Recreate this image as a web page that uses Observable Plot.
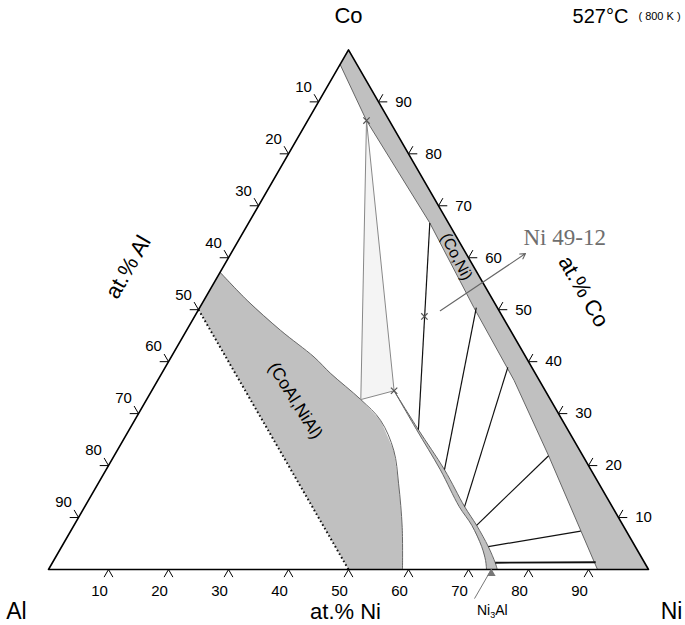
<!DOCTYPE html>
<html><head><meta charset="utf-8">
<script src="https://cdn.jsdelivr.net/npm/d3@7"></script>
<script src="https://cdn.jsdelivr.net/npm/@observablehq/plot@0.6"></script>
<style>body{margin:0;background:#fff} svg{display:block}</style>
</head><body><div id="chart"></div>
<script>
// compositions given as [at.% Ni, at.% Co]; at.% Al = 100 - Ni - Co
const tickValues = [10, 20, 30, 40, 50, 60, 70, 80, 90];
const coNiBoundary = [[0,97.2],[9.8,86.4],[30.2,66.7],[45.7,50.4],[59.4,36.4],[72.4,21.9],[91.5,0]];
const b2Boundary = [[0,57.2],[7.2,51.8],[15.7,46.0],[23.8,40.9],[28.2,37.7],[35.7,32.7],[41.0,28.7],[46.1,22.9],[50.1,16.5],[54.9,8.1],[59.0,0]];
const b2Stoich = [[0,50],[50,0]];
const gpAlSide = [[40.4,34.4],[47.9,26.9],[55.7,19.2],[62.4,12.1],[66.3,8.5],[70.0,4.4],[72.0,1.7],[73.0,0]];
const gpNiSide = [[40.4,34.4],[48.2,26.9],[56.4,19.2],[63.3,12.1],[67.1,8.5],[71.1,4.4],[73.8,1.3],[74.8,0]];
const threePhase = [[9.8,86.4],[35.7,32.7],[40.4,34.4]];
const tieGp  = [[48.2,26.9],[56.4,19.2],[63.3,12.1],[67.1,8.5],[71.1,4.4],[73.8,1.3]];
const tieFcc = [[30.2,66.7],[46.1,50.4],[57.1,38.9],[72.4,21.9],[85.0,7.4],[90.5,1.4]];
const markedPoints = [[9.8,86.4],[38.3,48.7],[40.4,34.4]];
const alloyArrow = [[40.4,49.8],[49.1,60.8]];
const ni3AlNi = 73.8;

const SQ = Math.sqrt(3) / 2;
const P = ([ni, co]) => ({x: ni / 100 + co / 200, y: co / 100 * SQ});
const poly = pts => pts.map(P);

const d = 1.4;
const chev = [];
tickValues.forEach(t => {
  [[t,-d],[t,0],[t+d,-d]].forEach(p => chev.push({...P(p), id: "b" + t}));
  [[-d,100-t],[0,100-t],[-d,100-t+d]].forEach(p => chev.push({...P(p), id: "l" + t}));
  [[100-t+d,t],[100-t,t],[100-t,t+d]].forEach(p => chev.push({...P(p), id: "r" + t}));
});
const bottomLab = tickValues.map(t => ({...P([t,0]), t}));
const leftLab = tickValues.map(t => ({...P([0,100-t]), t}));
const rightLab = tickValues.map(t => ({...P([100-t,t]), t}));

const ties = tieGp.map((g, i) => {const a = P(g), b = P(tieFcc[i]); return {x1: a.x, y1: a.y, x2: b.x, y2: b.y, w: i === tieGp.length - 1 ? 1.8 : 1.2};});
const aa = P(alloyArrow[0]), ab = P(alloyArrow[1]);
const GRAY = "#c0c0c0";
const serif = "'Liberation Serif', 'Times New Roman', serif";
const tick = P([ni3AlNi, -5.6]), tip = P([ni3AlNi, 0]);

const chart = Plot.plot({
  width: 685, height: 625, margin: 0,
  x: {domain: [0, 1], range: [48, 648], axis: null},
  y: {domain: [0, SQ], range: [569, 49.4], axis: null},
  style: {fontFamily: "'Liberation Sans', Arial, sans-serif", background: "#fff"},
  marks: [
    Plot.line(poly([[0,100],[100,0], ...coNiBoundary.slice().reverse()]), {x: "x", y: "y", fill: GRAY, stroke: "none"}),
    Plot.line(poly(coNiBoundary), {x: "x", y: "y", stroke: "#666", strokeWidth: 1}),
    Plot.line(poly([...b2Boundary, [50,0], [0,50]]), {x: "x", y: "y", fill: GRAY, stroke: "none"}),
    Plot.line(poly(b2Boundary), {x: "x", y: "y", stroke: "#666", strokeWidth: 1, curve: "catmull-rom"}),
    Plot.line(poly(b2Stoich), {x: "x", y: "y", stroke: "#111", strokeWidth: 2, strokeDasharray: "1.6,2.6", strokeLinecap: "butt"}),
    Plot.line(poly([...threePhase, threePhase[0]]), {x: "x", y: "y", fill: "#f4f4f4", stroke: "#888", strokeWidth: 1}),
    Plot.line(poly([...gpAlSide, ...gpNiSide.slice().reverse()]), {x: "x", y: "y", fill: GRAY, stroke: "none"}),
    Plot.line(poly(gpAlSide), {x: "x", y: "y", stroke: "#666", strokeWidth: 1, curve: "catmull-rom"}),
    Plot.line(poly(gpNiSide), {x: "x", y: "y", stroke: "#666", strokeWidth: 1, curve: "catmull-rom"}),
    Plot.link(ties, {x1: "x1", y1: "y1", x2: "x2", y2: "y2", stroke: "#111", strokeWidth: "w"}),
    Plot.line(poly([[0,0],[100,0],[0,100],[0,0]]), {x: "x", y: "y", stroke: "#000", strokeWidth: 1.6}),
    Plot.line(chev, {x: "x", y: "y", z: "id", stroke: "#000", strokeWidth: 1, strokeLinejoin: "miter"}),
    Plot.text(bottomLab, {x: "x", y: "y", text: d => String(d.t), dx: -9, dy: 22, fontSize: 15}),
    Plot.text(leftLab, {x: "x", y: "y", text: d => String(d.t), dx: -15, dy: -15, fontSize: 15}),
    Plot.text(rightLab, {x: "x", y: "y", text: d => String(d.t), dx: 25, dy: 0, fontSize: 15}),
    Plot.dot(poly(markedPoints), {x: "x", y: "y", symbol: "times", r: 3, stroke: "#555", strokeWidth: 1.2}),
    Plot.arrow([{x1: aa.x, y1: aa.y, x2: ab.x, y2: ab.y}], {x1: "x1", y1: "y1", x2: "x2", y2: "y2", stroke: "#666", strokeWidth: 1.1, headLength: 8}),
    Plot.text([ab], {x: "x", y: "y", text: () => "Ni 49-12", textAnchor: "start", dx: -2, dy: -16, fontSize: 23, fill: "#6e6e6e", fontFamily: serif}),
    Plot.text([P([37.9,60.2])], {x: "x", y: "y", text: () => "(Co,Ni)", rotate: 63, fontSize: 16}),
    Plot.text([P([24.9,32.5])], {x: "x", y: "y", text: () => "(CoAl,NiAl)", rotate: 58, fontSize: 17.5}),
    Plot.text([P([-15.8,58.2])], {x: "x", y: "y", text: () => "at.% Al", rotate: -60, fontSize: 22}),
    Plot.text([P([62.4,53.5])], {x: "x", y: "y", text: () => "at.% Co", rotate: 60, fontSize: 22}),
    Plot.text([P([50,0])], {x: "x", y: "y", text: () => "at.% Ni", dx: -3, dy: 42, fontSize: 22}),
    Plot.text([P([0,0])], {x: "x", y: "y", text: () => "Al", dx: -32, dy: 42, fontSize: 23}),
    Plot.text([P([100,0])], {x: "x", y: "y", text: () => "Ni", dx: 23, dy: 42, fontSize: 23}),
    Plot.text([P([0,100])], {x: "x", y: "y", text: () => "Co", dy: -34, fontSize: 22}),
    Plot.link([{x1: tick.x, y1: tick.y, x2: tip.x, y2: tip.y}], {x1: "x1", y1: "y1", x2: "x2", y2: "y2", stroke: "#777", strokeWidth: 1}),
    Plot.dot([tip], {x: "x", y: "y", symbol: "triangle", r: 3.2, fill: "#777", dy: 4}),
    Plot.text([tip], {x: "x", y: "y", text: () => "Ni3Al", dx: 1, dy: 41, fontSize: 14}),
    Plot.text([0], {frameAnchor: "top-left", textAnchor: "middle", lineAnchor: "middle", text: () => "527°C", dx: 600, dy: 16, fontSize: 20}),
    Plot.text([0], {frameAnchor: "top-left", textAnchor: "middle", lineAnchor: "middle", text: () => "( 800 K )", dx: 659, dy: 16, fontSize: 11})
  ]
});
document.getElementById("chart").appendChild(chart);
d3.select(chart).selectAll("text").filter(function () { return this.textContent === "Ni3Al"; })
  .each(function () {
    const t = d3.select(this);
    t.text(null);
    t.append("tspan").text("Ni");
    t.append("tspan").attr("font-size", 9).attr("dy", 3).text("3");
    t.append("tspan").attr("dy", -3).text("Al");
  });
</script>
</body></html>
